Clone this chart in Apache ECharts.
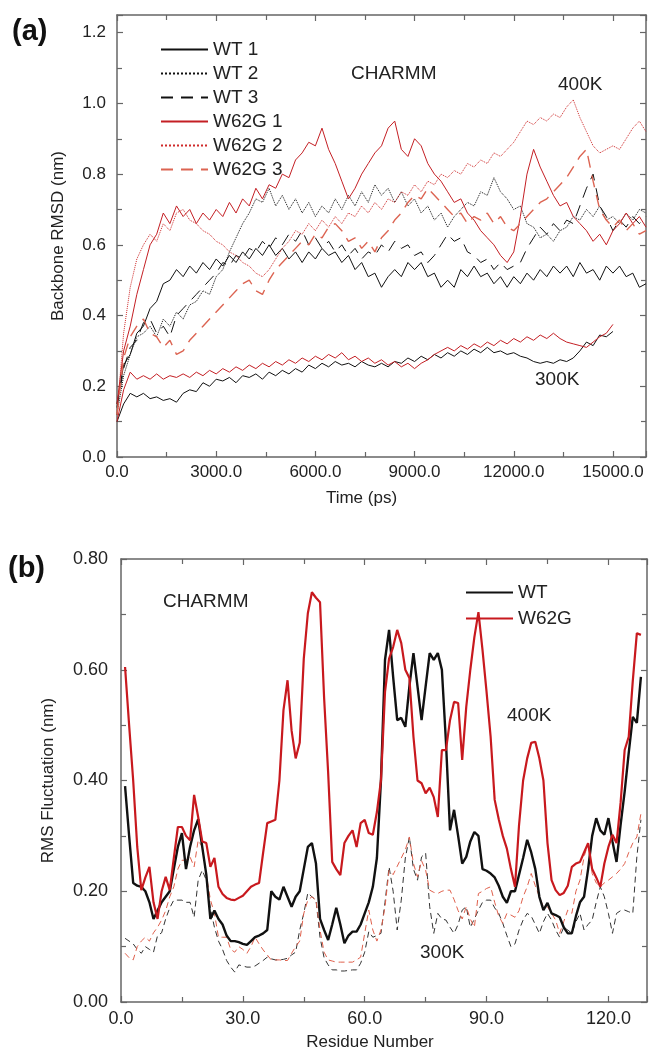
<!DOCTYPE html>
<html><head><meta charset="utf-8">
<script src="https://cdn.jsdelivr.net/npm/echarts@6/dist/echarts.min.js"></script>
<style>html,body{margin:0;padding:0;background:#fff}#c{width:650px;height:1053px}</style>
</head><body><div id="c"></div>
<script>
// ---------- Panel (a): backbone RMSD vs time ----------
const timeA = [0,200,400,600,800,1000,1200,1400,1600,1800,
2000,2200,2400,2600,2800,3000,3200,3400,3600,3800,
4000,4200,4400,4600,4800,5000,5200,5400,5600,5800,
6000,6200,6400,6600,6800,7000,7200,7400,7600,7800,
8000,8200,8400,8600,8800,9000,9200,9400,9600,9800,
10000,10200,10400,10600,10800,11000,11200,11400,11600,11800,
12000,12200,12400,12600,12800,13000,13200,13400,13600,13800,
14000,14200,14400,14600,14800,15000,15200,15400,15600,15800,
16000];
const xTicksA = [0,3000,6000,9000,12000,15000];
const yTicksA = [0,0.2,0.4,0.6,0.8,1.0,1.2];

const wt1 = [0.15,0.26,0.29,0.35,0.37,0.42,0.44,0.49,0.50,0.53,
0.51,0.54,0.52,0.55,0.53,0.56,0.54,0.57,0.55,0.58,
0.56,0.59,0.57,0.60,0.57,0.59,0.56,0.58,0.55,0.58,
0.56,0.59,0.57,0.58,0.55,0.57,0.53,0.55,0.51,0.52,
0.48,0.51,0.53,0.51,0.55,0.53,0.55,0.51,0.52,0.48,
0.50,0.48,0.53,0.51,0.54,0.51,0.52,0.49,0.51,0.48,
0.51,0.49,0.52,0.50,0.53,0.51,0.54,0.52,0.54,0.51,
0.55,0.52,0.53,0.50,0.54,0.52,0.54,0.51,0.52,0.48,
0.49];
const wt2 = [0.12,0.23,0.29,0.34,0.35,0.37,0.34,0.39,0.37,0.41,
0.39,0.43,0.44,0.47,0.46,0.51,0.53,0.58,0.62,0.66,
0.69,0.73,0.72,0.76,0.71,0.74,0.70,0.73,0.69,0.72,
0.68,0.71,0.69,0.73,0.70,0.74,0.71,0.75,0.72,0.77,
0.74,0.76,0.72,0.75,0.71,0.73,0.69,0.71,0.67,0.69,
0.65,0.68,0.70,0.72,0.71,0.75,0.74,0.79,0.75,0.73,
0.70,0.71,0.66,0.65,0.62,0.63,0.61,0.64,0.65,0.68,
0.67,0.70,0.68,0.71,0.67,0.68,0.66,0.69,0.67,0.70,
0.69];
const wt3 = [0.14,0.25,0.31,0.33,0.38,0.39,0.35,0.37,0.34,0.40,
0.42,0.44,0.46,0.48,0.50,0.52,0.55,0.54,0.57,0.56,
0.59,0.58,0.61,0.59,0.62,0.60,0.63,0.61,0.64,0.60,
0.62,0.59,0.61,0.58,0.60,0.57,0.59,0.56,0.58,0.57,
0.60,0.58,0.61,0.59,0.60,0.57,0.58,0.55,0.57,0.60,
0.63,0.61,0.62,0.58,0.57,0.55,0.56,0.53,0.55,0.53,
0.54,0.55,0.59,0.62,0.65,0.63,0.66,0.64,0.67,0.66,
0.71,0.76,0.80,0.71,0.68,0.64,0.67,0.65,0.68,0.66,
0.68];
const mut1 = [0.15,0.30,0.37,0.46,0.53,0.60,0.63,0.69,0.66,0.71,
0.68,0.70,0.66,0.69,0.67,0.70,0.68,0.72,0.69,0.73,
0.71,0.76,0.73,0.77,0.76,0.80,0.79,0.84,0.86,0.89,
0.88,0.93,0.87,0.83,0.78,0.73,0.76,0.80,0.83,0.86,
0.88,0.93,0.95,0.87,0.85,0.90,0.88,0.83,0.80,0.78,
0.75,0.72,0.73,0.69,0.67,0.64,0.62,0.60,0.57,0.55,
0.58,0.68,0.80,0.87,0.82,0.78,0.74,0.71,0.72,0.68,
0.66,0.64,0.61,0.63,0.60,0.64,0.66,0.69,0.66,0.68,
0.65];
const mut2 = [0.12,0.35,0.48,0.56,0.60,0.63,0.61,0.66,0.64,0.69,
0.70,0.67,0.66,0.64,0.63,0.61,0.60,0.58,0.57,0.55,
0.54,0.52,0.51,0.53,0.56,0.59,0.61,0.64,0.63,0.66,
0.64,0.67,0.65,0.68,0.66,0.69,0.68,0.71,0.69,0.72,
0.70,0.73,0.72,0.75,0.74,0.77,0.75,0.78,0.77,0.80,
0.79,0.81,0.80,0.83,0.82,0.84,0.83,0.86,0.85,0.87,
0.89,0.92,0.95,0.94,0.96,0.95,0.97,0.96,0.99,1.01,
0.96,0.92,0.88,0.86,0.87,0.88,0.87,0.90,0.93,0.95,
0.92];
const mut3 = [0.12,0.28,0.34,0.37,0.39,0.35,0.34,0.31,0.33,0.29,
0.30,0.33,0.35,0.37,0.39,0.41,0.43,0.45,0.47,0.49,
0.50,0.47,0.46,0.50,0.53,0.55,0.57,0.59,0.61,0.60,
0.63,0.62,0.65,0.66,0.64,0.61,0.62,0.59,0.61,0.58,
0.62,0.64,0.67,0.69,0.72,0.74,0.73,0.76,0.74,0.72,
0.70,0.68,0.69,0.66,0.68,0.67,0.69,0.66,0.68,0.65,
0.64,0.66,0.68,0.70,0.72,0.73,0.75,0.77,0.79,0.82,
0.85,0.87,0.78,0.70,0.67,0.65,0.67,0.64,0.66,0.63,
0.64];
// 300K runs (end at 15000 ps)
const wt300 = [0.10,0.15,0.18,0.17,0.18,0.165,0.17,0.16,0.165,0.155,
0.18,0.19,0.185,0.21,0.20,0.22,0.215,0.225,0.21,0.23,
0.225,0.235,0.22,0.24,0.23,0.245,0.235,0.25,0.24,0.26,
0.25,0.265,0.255,0.27,0.26,0.265,0.255,0.27,0.26,0.255,
0.265,0.255,0.27,0.265,0.28,0.27,0.285,0.275,0.29,0.28,
0.295,0.285,0.30,0.29,0.305,0.295,0.31,0.295,0.30,0.29,
0.295,0.285,0.28,0.27,0.265,0.27,0.265,0.275,0.27,0.28,
0.30,0.325,0.315,0.345,0.34,0.355];
const mut300 = [0.10,0.19,0.24,0.22,0.23,0.22,0.235,0.22,0.23,0.225,
0.235,0.225,0.24,0.23,0.245,0.235,0.25,0.24,0.255,0.245,
0.26,0.25,0.265,0.255,0.27,0.26,0.275,0.265,0.28,0.27,
0.285,0.275,0.29,0.28,0.295,0.275,0.285,0.27,0.28,0.265,
0.275,0.26,0.27,0.255,0.265,0.25,0.265,0.275,0.29,0.30,
0.31,0.30,0.315,0.305,0.32,0.31,0.325,0.315,0.33,0.32,
0.335,0.325,0.34,0.33,0.345,0.335,0.35,0.335,0.325,0.32,
0.315,0.31,0.325,0.34,0.35,0.375];

// ---------- Panel (b): RMS fluctuation per residue ----------
const residues = [1,2,3,4,5,6,7,8,9,10,11,12,13,14,15,16,17,18,19,20,
21,22,23,24,25,26,27,28,29,30,31,32,33,34,35,36,37,38,39,40,
41,42,43,44,45,46,47,48,49,50,51,52,53,54,55,56,57,58,59,60,
61,62,63,64,65,66,67,68,69,70,71,72,73,74,75,76,77,78,79,80,
81,82,83,84,85,86,87,88,89,90,91,92,93,94,95,96,97,98,99,100,
101,102,103,104,105,106,107,108,109,110,111,112,113,114,115,116,117,118,119,120,
121,122,123,124,125,126,127,128];
const xTicksB = [0,30,60,90,120];
const yTicksB = [0,0.2,0.4,0.6,0.8];

const wtHot = [0.39,0.30,0.215,0.21,0.208,0.20,0.18,0.15,0.165,0.18,
0.19,0.20,0.24,0.28,0.305,0.24,0.28,0.31,0.33,0.28,
0.23,0.15,0.165,0.15,0.14,0.12,0.11,0.11,0.108,0.105,
0.103,0.11,0.117,0.12,0.124,0.13,0.20,0.19,0.185,0.208,
0.19,0.172,0.19,0.20,0.24,0.28,0.287,0.25,0.15,0.13,
0.112,0.14,0.17,0.14,0.106,0.12,0.127,0.127,0.14,0.16,
0.18,0.208,0.26,0.40,0.618,0.672,0.587,0.509,0.513,0.497,
0.57,0.63,0.57,0.509,0.57,0.63,0.618,0.63,0.60,0.47,
0.31,0.347,0.30,0.25,0.262,0.29,0.307,0.30,0.24,0.237,
0.232,0.225,0.21,0.19,0.179,0.20,0.20,0.23,0.26,0.293,
0.27,0.24,0.19,0.166,0.179,0.16,0.157,0.153,0.135,0.124,
0.124,0.155,0.18,0.19,0.24,0.30,0.332,0.31,0.302,0.332,
0.29,0.253,0.32,0.38,0.45,0.515,0.504,0.587];
const mutHot = [0.605,0.50,0.40,0.28,0.202,0.225,0.244,0.18,0.15,0.20,
0.226,0.202,0.26,0.316,0.316,0.30,0.292,0.374,0.334,0.29,
0.287,0.244,0.26,0.208,0.195,0.188,0.185,0.184,0.188,0.192,
0.20,0.208,0.212,0.215,0.27,0.323,0.326,0.329,0.40,0.527,
0.581,0.49,0.44,0.468,0.62,0.702,0.74,0.73,0.722,0.55,
0.414,0.253,0.24,0.229,0.287,0.30,0.31,0.28,0.323,0.329,
0.305,0.302,0.343,0.40,0.56,0.62,0.641,0.672,0.648,0.60,
0.585,0.479,0.40,0.395,0.377,0.387,0.37,0.334,0.455,0.455,
0.509,0.542,0.54,0.437,0.533,0.60,0.659,0.704,0.636,0.56,
0.479,0.365,0.33,0.30,0.277,0.24,0.208,0.32,0.40,0.44,
0.468,0.47,0.44,0.40,0.287,0.22,0.202,0.193,0.197,0.21,
0.244,0.25,0.253,0.27,0.287,0.24,0.225,0.208,0.25,0.28,
0.302,0.287,0.36,0.455,0.479,0.58,0.666,0.663];
const wtCold = [0.115,0.11,0.105,0.095,0.088,0.10,0.095,0.09,0.12,0.125,
0.15,0.17,0.184,0.184,0.184,0.18,0.18,0.153,0.22,0.238,
0.22,0.17,0.135,0.11,0.095,0.075,0.063,0.054,0.067,0.065,
0.063,0.063,0.065,0.07,0.075,0.081,0.078,0.076,0.076,0.077,
0.079,0.085,0.09,0.13,0.16,0.197,0.19,0.184,0.117,0.08,
0.067,0.058,0.058,0.056,0.056,0.057,0.058,0.058,0.07,0.09,
0.127,0.117,0.12,0.124,0.18,0.244,0.20,0.13,0.184,0.26,
0.298,0.24,0.22,0.262,0.269,0.172,0.124,0.16,0.15,0.148,
0.135,0.124,0.14,0.166,0.172,0.135,0.15,0.166,0.18,0.184,
0.184,0.17,0.16,0.142,0.12,0.10,0.105,0.13,0.148,0.16,
0.155,0.14,0.124,0.145,0.16,0.148,0.13,0.117,0.135,0.13,
0.124,0.145,0.16,0.13,0.14,0.148,0.18,0.208,0.19,0.16,
0.124,0.16,0.165,0.166,0.163,0.16,0.262,0.329];
const mutCold = [0.088,0.08,0.076,0.10,0.11,0.117,0.11,0.125,0.135,0.148,
0.165,0.19,0.208,0.24,0.256,0.256,0.262,0.244,0.292,0.28,
0.23,0.185,0.16,0.117,0.117,0.117,0.095,0.09,0.10,0.095,
0.088,0.10,0.117,0.105,0.094,0.085,0.076,0.076,0.076,0.075,
0.075,0.088,0.10,0.11,0.16,0.184,0.19,0.184,0.13,0.09,
0.076,0.074,0.072,0.072,0.072,0.072,0.072,0.076,0.081,0.124,
0.166,0.13,0.11,0.13,0.172,0.238,0.23,0.245,0.26,0.275,
0.298,0.25,0.226,0.255,0.238,0.202,0.198,0.196,0.20,0.202,
0.202,0.185,0.165,0.15,0.172,0.15,0.135,0.196,0.20,0.205,
0.208,0.18,0.155,0.142,0.16,0.157,0.153,0.165,0.19,0.208,
0.232,0.21,0.19,0.172,0.172,0.16,0.148,0.124,0.145,0.166,
0.16,0.20,0.22,0.262,0.287,0.232,0.215,0.208,0.215,0.22,
0.226,0.232,0.24,0.25,0.27,0.287,0.298,0.34];

// ---------- styling ----------
const FONT = "'Liberation Sans', Arial, Helvetica, sans-serif";
const AX = '#666';
const TXT = '#222';
const BLACK = '#111';
const RED1 = '#c41f24', RED2 = '#cf2b2b', RED3 = '#dc6452';

function pairs(xs, ys){ return ys.map((v,i)=>[xs[i], v]); }
function isTick(list, v){ return list.some(t=>Math.abs(t-v)<1e-6); }

function axisCommon(extra){
  return Object.assign({
    type:'value',
    axisLine:{show:true, onZero:false, lineStyle:{color:AX, width:1.5}},
    axisTick:{show:true, inside:true, length:6, lineStyle:{color:AX, width:1.2}},
    minorTick:{show:true, splitNumber:2, length:5, lineStyle:{color:AX, width:1.2}},
    splitLine:{show:false}, minorSplitLine:{show:false}
  }, extra);
}

function lineSeries(name, data, color, width, type, xi, yi, z){
  return {
    name, type:'line', data, xAxisIndex:xi, yAxisIndex:yi,
    symbol:'none', showSymbol:false, animation:false, z:z||2,
    color, lineStyle:{color, width, type}
  };
}

const legendBase = {
  orient:'vertical', itemWidth:47, itemHeight:14, selectedMode:false,
  itemStyle:{opacity:0, borderWidth:0},
  textStyle:{fontSize:19, fontFamily:FONT, color:TXT}
};

const chart = echarts.init(document.getElementById('c'), null, {renderer:'canvas'});
const option = {
  backgroundColor:'#fff',
  animation:false,
  grid:[
    {left:117, top:15, right:4, bottom:596},
    {left:121, top:559, right:2, bottom:51}
  ],
  xAxis:[
    axisCommon({gridIndex:0, position:'bottom', min:0, max:16000, interval:3000,
      axisLabel:{show:true, margin:7, color:TXT, fontSize:17, fontFamily:FONT,
        formatter:v=>isTick(xTicksA, v)? v.toFixed(1) : ''},
      name:'Time (ps)', nameLocation:'middle', nameGap:33,
      nameTextStyle:{fontSize:17, fontFamily:FONT, color:TXT, padding:[0,40,0,0]}}),
    axisCommon({gridIndex:0, position:'top', min:0, max:16000, interval:3000,
      axisLabel:{show:false}}),
    axisCommon({gridIndex:1, position:'bottom', min:0, max:129.5, interval:30,
      axisLabel:{show:true, margin:8, color:TXT, fontSize:18, fontFamily:FONT,
        formatter:v=>isTick(xTicksB, v)? v.toFixed(1) : ''},
      name:'Residue Number', nameLocation:'middle', nameGap:32,
      nameTextStyle:{fontSize:17, fontFamily:FONT, color:TXT, padding:[0,28,0,0]}}),
    axisCommon({gridIndex:1, position:'top', min:0, max:129.5, interval:30,
      axisLabel:{show:false}})
  ],
  yAxis:[
    axisCommon({gridIndex:0, position:'left', min:0, max:1.25, interval:0.2,
      axisLabel:{show:true, margin:11, color:TXT, fontSize:17, fontFamily:FONT,
        formatter:v=>isTick(yTicksA, v)? v.toFixed(1) : ''},
      name:'Backbone RMSD (nm)', nameLocation:'middle', nameGap:50,
      nameTextStyle:{fontSize:17, fontFamily:FONT, color:TXT}}),
    axisCommon({gridIndex:0, position:'right', min:0, max:1.25, interval:0.2,
      axisLabel:{show:false}}),
    axisCommon({gridIndex:1, position:'left', min:0, max:0.8, interval:0.2,
      axisLabel:{show:true, margin:13, color:TXT, fontSize:18, fontFamily:FONT,
        formatter:v=>isTick(yTicksB, v)? v.toFixed(2) : ''},
      name:'RMS Fluctuation (nm)', nameLocation:'middle', nameGap:64,
      nameTextStyle:{fontSize:17, fontFamily:FONT, color:TXT}}),
    axisCommon({gridIndex:1, position:'right', min:0, max:0.8, interval:0.2,
      axisLabel:{show:false}})
  ],
  legend:[
    Object.assign({}, legendBase, {data:['WT 1','WT 2','WT 3','W62G 1','W62G 2','W62G 3'],
      left:155, top:35, itemGap:5}),
    Object.assign({}, legendBase, {data:['WT','W62G'], left:460, top:578, itemGap:7})
  ],
  series:[
    lineSeries('WT 300K', pairs(timeA, wt300), BLACK, 1, 'solid', 0, 0),
    lineSeries('W62G 300K', pairs(timeA, mut300), RED1, 1, 'solid', 0, 0),
    lineSeries('WT 1', pairs(timeA, wt1), BLACK, 1, 'solid', 0, 0),
    lineSeries('WT 2', pairs(timeA, wt2), BLACK, 1, 'dotted', 0, 0),
    lineSeries('WT 3', pairs(timeA, wt3), BLACK, 1, [12,8], 0, 0),
    lineSeries('W62G 1', pairs(timeA, mut1), RED1, 1, 'solid', 0, 0),
    lineSeries('W62G 2', pairs(timeA, mut2), RED2, 1, 'dotted', 0, 0),
    lineSeries('W62G 3', pairs(timeA, mut3), RED3, 1.4, [12,8], 0, 0),
    lineSeries('WT 300K (b)', pairs(residues, wtCold), '#333', 1, [6,4], 2, 2),
    lineSeries('W62G 300K (b)', pairs(residues, mutCold), '#e0604c', 1, [6,4], 2, 2),
    lineSeries('WT', pairs(residues, wtHot), BLACK, 2.4, 'solid', 2, 2, 3),
    lineSeries('W62G', pairs(residues, mutHot), '#c8191e', 2.2, 'solid', 2, 2, 4)
  ],
  graphic:[
    {type:'text', x:12, y:32, style:{text:'(a)', font:"bold 29px "+FONT, fill:'#111', align:'left', verticalAlign:'middle'}},
    {type:'text', x:8, y:569, style:{text:'(b)', font:"bold 29px "+FONT, fill:'#111', align:'left', verticalAlign:'middle'}},
    {type:'text', x:351, y:74, style:{text:'CHARMM', font:"19px "+FONT, fill:TXT, align:'left', verticalAlign:'middle'}},
    {type:'text', x:558, y:85, style:{text:'400K', font:"19px "+FONT, fill:TXT, align:'left', verticalAlign:'middle'}},
    {type:'text', x:535, y:380, style:{text:'300K', font:"19px "+FONT, fill:TXT, align:'left', verticalAlign:'middle'}},
    {type:'text', x:163, y:602, style:{text:'CHARMM', font:"19px "+FONT, fill:TXT, align:'left', verticalAlign:'middle'}},
    {type:'text', x:507, y:716, style:{text:'400K', font:"19px "+FONT, fill:TXT, align:'left', verticalAlign:'middle'}},
    {type:'text', x:420, y:953, style:{text:'300K', font:"19px "+FONT, fill:TXT, align:'left', verticalAlign:'middle'}}
  ]
};
chart.setOption(option);
</script>
</body></html>
